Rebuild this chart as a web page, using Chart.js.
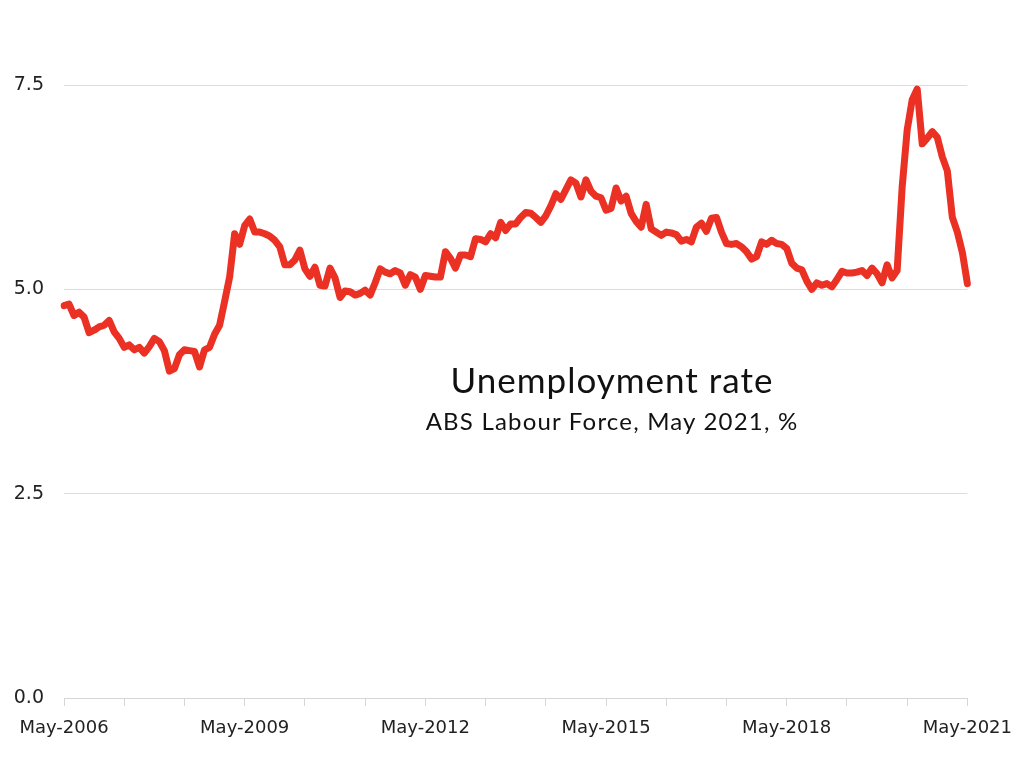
<!DOCTYPE html>
<html>
<head>
<meta charset="utf-8">
<script src="https://cdn.jsdelivr.net/npm/chart.js@4"></script>
<style>
  body { margin: 0; background: #fff; }
  #wrap { position: relative; width: 1024px; height: 769px; }
  .note { position: absolute; left: 612px; transform: translateX(-50%); white-space: nowrap; font-family: Lato, sans-serif; color: #111; }
  #t1 { top: 358px; font-size: 35px; letter-spacing: 1px; }
  #t2 { top: 406px; font-size: 24px; letter-spacing: 1.2px; }
</style>
</head>
<body>
<div id="wrap">
  <canvas id="lineChart" width="1024" height="769"></canvas>
  <div class="note" id="t1">Unemployment rate</div>
  <div class="note" id="t2">ABS Labour Force, May 2021, %</div>
</div>
<script>
// monthly, May-2006 .. May-2021
const monthNames = ['Jan','Feb','Mar','Apr','May','Jun','Jul','Aug','Sep','Oct','Nov','Dec'];
const months = [];
for (let y = 2006; y <= 2021; y++) {
  for (let m = 0; m < 12; m++) {
    if (y === 2006 && m < 4) continue;
    if (y === 2021 && m > 4) continue;
    months.push(monthNames[m] + '-' + y);
  }
}

const unemployment = [
  4.80, 4.82, 4.68, 4.72, 4.66, 4.47, 4.50, 4.54, 4.56, 4.62, 4.48, 4.40,
  4.29, 4.32, 4.26, 4.29, 4.22, 4.30, 4.40, 4.36, 4.25, 4.00, 4.03, 4.20,
  4.26, 4.25, 4.24, 4.05, 4.26, 4.29, 4.45, 4.56, 4.85, 5.15, 5.68, 5.55,
  5.78, 5.86, 5.70, 5.70, 5.68, 5.65, 5.60, 5.52, 5.30, 5.30, 5.36, 5.48,
  5.25, 5.16, 5.27, 5.05, 5.04, 5.26, 5.14, 4.90, 4.98, 4.97, 4.93, 4.95,
  4.99, 4.93, 5.08, 5.25, 5.21, 5.19, 5.23, 5.20, 5.05, 5.18, 5.15, 5.00,
  5.17, 5.16, 5.15, 5.15, 5.46, 5.38, 5.26, 5.42, 5.42, 5.40, 5.62, 5.61,
  5.58, 5.68, 5.63, 5.82, 5.72, 5.80, 5.80, 5.88, 5.94, 5.93, 5.88, 5.82,
  5.90, 6.02, 6.17, 6.10, 6.22, 6.34, 6.30, 6.13, 6.34, 6.20, 6.14, 6.12,
  5.97, 5.99, 6.24, 6.08, 6.14, 5.93, 5.83, 5.76, 6.04, 5.74, 5.70, 5.66,
  5.70, 5.69, 5.67, 5.59, 5.61, 5.58, 5.76, 5.81, 5.71, 5.87, 5.88, 5.70,
  5.56, 5.55, 5.56, 5.52, 5.46, 5.37, 5.40, 5.58, 5.55, 5.60, 5.56, 5.55,
  5.50, 5.32, 5.26, 5.24, 5.10, 5.00, 5.08, 5.05, 5.07, 5.03, 5.12, 5.22,
  5.20, 5.20, 5.21, 5.23, 5.17, 5.26, 5.19, 5.08, 5.30, 5.14, 5.23, 6.25,
  6.95, 7.32, 7.45, 6.78, 6.85, 6.93, 6.86, 6.62, 6.45, 5.88, 5.70, 5.45,
  5.07
];

const yTicks = [0, 2.5, 5.0, 7.5];

const ctx = document.getElementById('lineChart').getContext('2d');
const lineChart = new Chart(ctx, {
  type: 'line',
  data: {
    labels: months,
    datasets: [{
      label: 'Unemployment rate',
      data: unemployment,
      borderColor: 'rgb(235, 48, 36)',
      borderWidth: 7,
      pointRadius: 0,
      tension: 0,
      borderJoinStyle: 'round',
      borderCapStyle: 'round'
    }]
  },
  options: {
    responsive: false,
    animation: false,
    layout: { padding: { top: 85, right: 56, left: 0, bottom: 0 } },
    plugins: { legend: { display: false }, tooltip: { enabled: false } },
    scales: {
      x: {
        afterFit: (scale) => { scale.height = 71; },
        border: { display: true, color: '#d6d6d6', width: 1 },
        grid: {
          drawOnChartArea: false,
          tickLength: 8,
          tickColor: (c) => (c.index % 12 === 0 ? '#d6d6d6' : 'transparent')
        },
        ticks: {
          autoSkip: false,
          maxRotation: 0,
          padding: 12,
          color: '#222',
          font: { family: 'DejaVu Sans', size: 18 },
          callback: function (value, index) {
            return index % 36 === 0 ? this.getLabelForValue(value) : '';
          }
        }
      },
      y: {
        min: 0,
        max: 7.5,
        afterFit: (scale) => { scale.width = 64; },
        afterBuildTicks: (scale) => { scale.ticks = yTicks.map(v => ({ value: v })); },
        border: { display: false },
        grid: { color: '#dcdcdc', drawTicks: false },
        ticks: {
          padding: 20,
          color: '#222',
          font: { family: 'DejaVu Sans', size: 19 },
          callback: (v) => v.toFixed(1)
        }
      }
    }
  }
});
</script>
</body>
</html>
